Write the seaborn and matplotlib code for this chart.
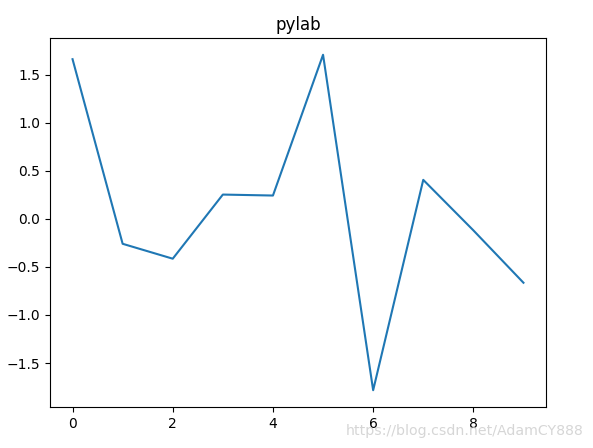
import matplotlib
matplotlib.use("Agg")
import matplotlib.pyplot as plt
import seaborn as sns

# values
x_vals = [0, 1, 2, 3, 4, 5, 6, 7, 8, 9]
y_vals = [1.66, -0.26, -0.415, 0.252, 0.242, 1.706, -1.783, 0.405, -0.12, -0.665]

fig = plt.figure(figsize=(5.93, 4.48), dpi=100)
# axes placed like a default 640x480 figure cropped to 593x448
ax = fig.add_axes([50 / 593, 41 / 448, 496 / 593, 369 / 448])
sns.lineplot(x=x_vals, y=y_vals, ax=ax, color="#1f77b4")
ax.set_title("pylab")

# csdn watermark
fig.text(0.984, 0.022, "https://blog.csdn.net/AdamCY888", ha="right", va="bottom",
         fontsize=10.2, color="#cccccc", alpha=0.8)

fig.savefig("out.png", dpi=100)
